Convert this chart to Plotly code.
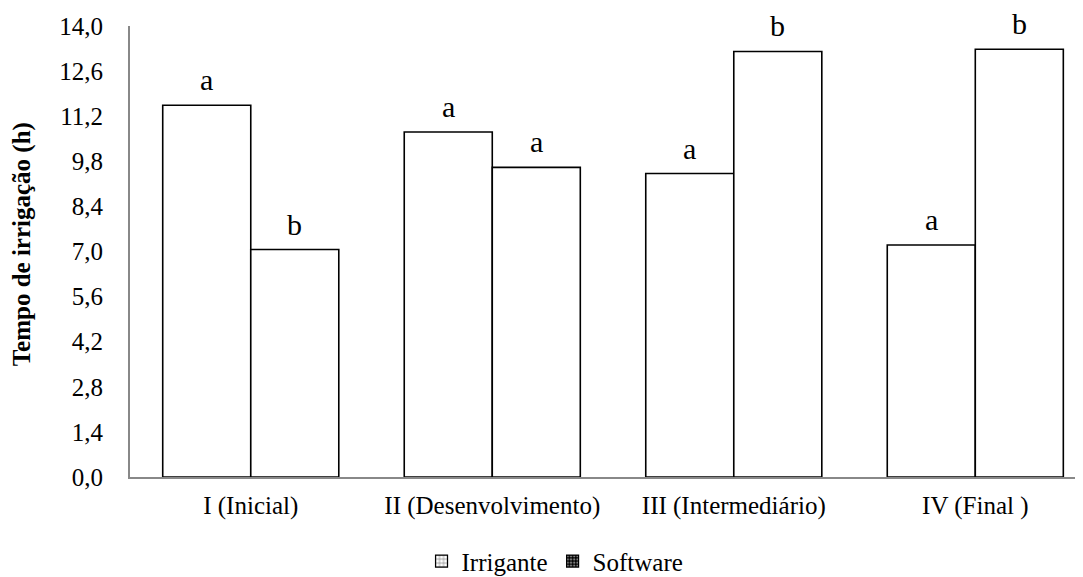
import plotly.graph_objects as go

categorias = ["I (Inicial)", "II (Desenvolvimento)", "III (Intermediário)", "IV (Final )"]
irrigante = [11.54, 10.71, 9.42, 7.20]
software = [7.06, 9.61, 13.21, 13.28]
letras_irrigante = ["a", "a", "a", "a"]
letras_software = ["b", "a", "b", "b"]
y_ticks = [0, 1.4, 2.8, 4.2, 5.6, 7.0, 8.4, 9.8, 11.2, 12.6, 14.0]
y_titulo = "<b>Tempo de irrigação (h)</b>"

FONT = "Liberation Serif"
# page body has an 8px margin, so the figure is drawn at (8, 8)
W, H = 1075, 569
L, R, T, B = 122, 0, 18, 100
x_range = [-0.5, 3.446]
plot_w = W - L - R
cat_px = plot_w / (x_range[1] - x_range[0])
bargap = 0.271
bar_px = cat_px * (1 - bargap) / 2

fig = go.Figure()
fig.add_trace(go.Bar(x=categorias, y=irrigante, name="Irrigante", showlegend=False, offsetgroup="irr",
                     marker=dict(color="white", line=dict(color="black", width=1.6))))
fig.add_trace(go.Bar(x=categorias, y=software, name="Software", showlegend=False, offsetgroup="soft",
                     marker=dict(color="white", line=dict(color="black", width=1.6))))

# legend-only entries with small patterned icons
fig.add_trace(go.Bar(x=[None], y=[None], name="Irrigante", offsetgroup="irr",
                     marker=dict(color="white", line=dict(color="black", width=1.2),
                                 pattern=dict(shape="+", fgcolor="black", bgcolor="white", size=5, solidity=0.3))))
fig.add_trace(go.Bar(x=[None], y=[None], name="Software", offsetgroup="soft",
                     marker=dict(color="black", line=dict(color="black", width=1.2),
                                 pattern=dict(shape=".", fgcolor="white", bgcolor="black", size=4, solidity=0.4))))

for cat, val, txt in zip(categorias, irrigante, letras_irrigante):
    fig.add_annotation(x=cat, y=val, text=txt, showarrow=False, xshift=-bar_px / 2, borderpad=0,
                       yanchor="bottom", yshift=8, font=dict(family=FONT, size=30, color="black"))
for cat, val, txt in zip(categorias, software, letras_software):
    fig.add_annotation(x=cat, y=val, text=txt, showarrow=False, xshift=bar_px / 2, borderpad=0,
                       yanchor="bottom", yshift=8, font=dict(family=FONT, size=30, color="black"))

fig.add_annotation(xref="paper", yref="paper", x=0, y=0.516, xshift=-108, text=y_titulo,
                   textangle=-90, showarrow=False, xanchor="center", yanchor="middle",
                   font=dict(family=FONT, size=25, color="black"))

fig.update_layout(
    width=W, height=H,
    margin=dict(l=L, r=R, t=T, b=B, autoexpand=False),
    paper_bgcolor="white", plot_bgcolor="white",
    barmode="group", bargap=bargap, bargroupgap=0,
    separators=",.",
    font=dict(family=FONT, size=25, color="black"),
    xaxis=dict(range=x_range, showline=True, linecolor="#888888", linewidth=2, automargin=False,
               showgrid=False, ticks="", tickfont=dict(family=FONT, size=25, color="black"),
               ticklabelstandoff=5),
    yaxis=dict(range=[0, 14], tickvals=y_ticks, tickformat=".1f", showline=True, automargin=False,
               linecolor="#888888", linewidth=2, showgrid=False, zeroline=False, ticks="",
               tickfont=dict(family=FONT, size=25, color="black"), ticklabelstandoff=20),
    legend=dict(orientation="h", xref="paper", yref="paper", x=0.446, xanchor="center",
                y=-0.238, yanchor="bottom", font=dict(family=FONT, size=25, color="black"),
                itemwidth=30, traceorder="normal"),
)

fig.write_html("out.html")
